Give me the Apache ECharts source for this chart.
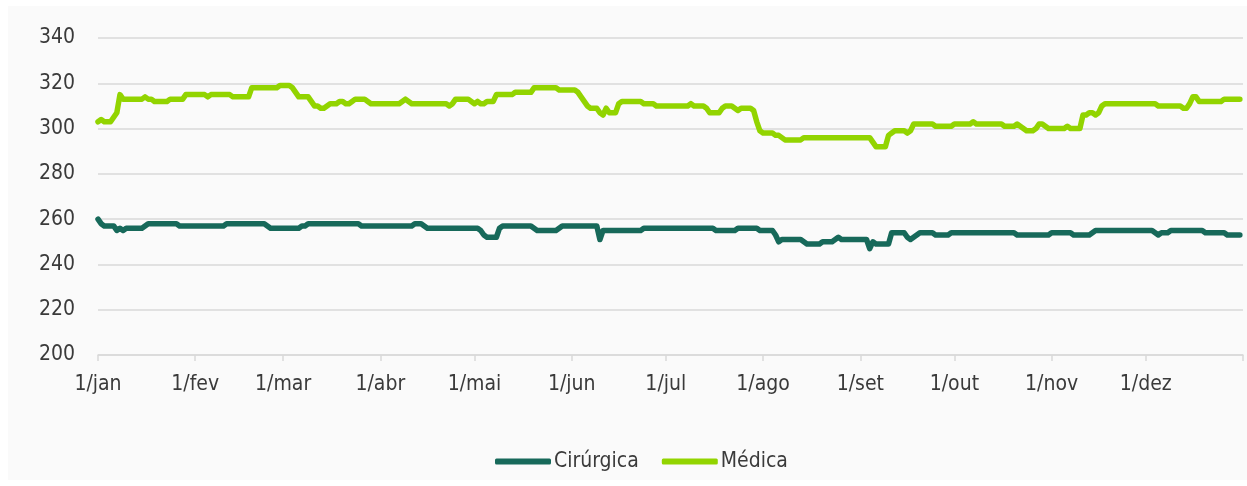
<!DOCTYPE html>
<html>
<head>
<meta charset="utf-8">
<script src="https://cdn.jsdelivr.net/npm/echarts@6/dist/echarts.min.js"></script>
<style>
html,body{margin:0;padding:0;background:#ffffff;}
#wrap{position:absolute;left:8px;top:6px;width:1239px;height:474px;background:#fafafa;}
#chart{position:absolute;left:0;top:0;width:1247px;height:486px;}
</style>
</head>
<body>
<div id="wrap"></div>
<div id="chart"></div>
<script>
// Month tick labels and their day offsets (day 0 = 1 January)
const monthLabels = ['1/jan','1/fev','1/mar','1/abr','1/mai','1/jun','1/jul','1/ago','1/set','1/out','1/nov','1/dez'];
const monthStarts = [0,31,59,90,120,151,181,212,243,273,304,334];
const yearEnd = 365;

// Daily occupied beds – Cirúrgica
const cirurgica = [
 260,258,257,257,257,257,255,256,255,256,256,256,256,256,256,257,258,258,258,258,258,258,258,258,258,258,257,257,257,257,257,
 257,257,257,257,257,257,257,257,257,257,258,258,258,258,258,258,258,258,258,258,258,258,258,257,256,256,256,256,
 256,256,256,256,256,256,257,257,258,258,258,258,258,258,258,258,258,258,258,258,258,258,258,258,258,257,257,257,257,257,257,
 257,257,257,257,257,257,257,257,257,257,257,258,258,258,257,256,256,256,256,256,256,256,256,256,256,256,256,256,256,256,
 256,256,255,253,252,252,252,252,256,257,257,257,257,257,257,257,257,257,257,256,255,255,255,255,255,255,255,256,257,257,257,
 257,257,257,257,257,257,257,257,257,251,255,255,255,255,255,255,255,255,255,255,255,255,255,256,256,256,256,256,256,256,
 256,256,256,256,256,256,256,256,256,256,256,256,256,256,256,256,255,255,255,255,255,255,255,256,256,256,256,256,256,256,255,
 255,255,255,255,253,250,251,251,251,251,251,251,251,250,249,249,249,249,249,250,250,250,250,251,252,251,251,251,251,251,251,
 251,251,251,247,250,249,249,249,249,249,254,254,254,254,254,252,251,252,253,254,254,254,254,254,253,253,253,253,253,254,
 254,254,254,254,254,254,254,254,254,254,254,254,254,254,254,254,254,254,254,254,253,253,253,253,253,253,253,253,253,253,253,
 254,254,254,254,254,254,254,253,253,253,253,253,253,254,255,255,255,255,255,255,255,255,255,255,255,255,255,255,255,255,
 255,255,255,254,253,254,254,254,255,255,255,255,255,255,255,255,255,255,255,254,254,254,254,254,254,254,253,253,253,253,253
];

// Daily occupied beds – Médica
const medica = [
 303,304,303,303,303,305,307,315,313,313,313,313,313,313,313,314,313,313,312,312,312,312,312,313,313,313,313,313,315,315,315,
 315,315,315,315,314,315,315,315,315,315,315,315,314,314,314,314,314,314,318,318,318,318,318,318,318,318,318,319,
 319,319,319,318,316,314,314,314,314,312,310,310,309,309,310,311,311,311,312,312,311,311,312,313,313,313,313,312,311,311,311,
 311,311,311,311,311,311,311,312,313,312,311,311,311,311,311,311,311,311,311,311,311,311,310,311,313,313,313,313,313,312,
 311,312,311,311,312,312,312,315,315,315,315,315,315,316,316,316,316,316,316,318,318,318,318,318,318,318,318,317,317,317,317,
 317,317,316,314,312,310,309,309,309,307,306,309,307,307,307,311,312,312,312,312,312,312,312,311,311,311,311,310,310,310,
 310,310,310,310,310,310,310,310,311,310,310,310,310,309,307,307,307,307,309,310,310,310,309,308,309,309,309,309,308,303,299,
 298,298,298,298,297,297,296,295,295,295,295,295,295,296,296,296,296,296,296,296,296,296,296,296,296,296,296,296,296,296,296,
 296,296,296,296,294,292,292,292,292,297,298,299,299,299,299,298,299,302,302,302,302,302,302,302,301,301,301,301,301,301,
 302,302,302,302,302,302,303,302,302,302,302,302,302,302,302,302,301,301,301,301,302,301,300,299,299,299,300,302,302,301,300,
 300,300,300,300,300,301,300,300,300,300,306,306,307,307,306,307,310,311,311,311,311,311,311,311,311,311,311,311,311,311,
 311,311,311,311,310,310,310,310,310,310,310,310,309,309,311,314,314,312,312,312,312,312,312,312,312,313,313,313,313,313,313
];

const FONT = "'Liberation Sans Narrow', 'DejaVu Sans Condensed', Roboto, sans-serif";
const TXT = '#3a3a3a';
const GRID = '#d9d9d9';

const chart = echarts.init(document.getElementById('chart'), null, {renderer: 'canvas'});
chart.setOption({
  backgroundColor: 'transparent',
  animation: false,
  textStyle: {fontFamily: FONT},
  grid: {left: 98, right: 4, top: 38, bottom: 131, containLabel: false},
  xAxis: {
    type: 'value',
    min: 0,
    max: yearEnd,
    splitLine: {show: false},
    axisLine: {show: true, lineStyle: {color: GRID, width: 1.5}},
    axisTick: {show: true, length: 6, lineStyle: {color: GRID, width: 1.5},
               customValues: monthStarts.concat([yearEnd])},
    axisLabel: {
      customValues: monthStarts,
      formatter: function (v) { return monthLabels[monthStarts.indexOf(v)]; },
      color: TXT, fontSize: 21, fontFamily: FONT, margin: 19
    }
  },
  yAxis: {
    type: 'value',
    min: 200, max: 340, interval: 20,
    axisLine: {show: false},
    axisTick: {show: false},
    splitLine: {lineStyle: {color: GRID, width: 1.5}},
    axisLabel: {color: TXT, fontSize: 21, fontFamily: FONT, margin: 23}
  },
  legend: {
    top: 446,
    left: 490,
    icon: 'roundRect',
    itemWidth: 56,
    itemHeight: 6,
    itemGap: 23,
    textStyle: {color: TXT, fontSize: 21, fontFamily: FONT, padding: [0, 0, 0, -2]},
    data: ['Cirúrgica', 'Médica']
  },
  series: [
    {
      name: 'Cirúrgica', type: 'line', showSymbol: false,
      data: cirurgica.map((v, i) => [i, v]),
      color: '#17695a',
      lineStyle: {width: 5.5, color: '#17695a', cap: 'round', join: 'round'}
    },
    {
      name: 'Médica', type: 'line', showSymbol: false,
      data: medica.map((v, i) => [i, v]),
      color: '#92d400',
      lineStyle: {width: 5.5, color: '#92d400', cap: 'round', join: 'round'}
    }
  ]
});
</script>
</body>
</html>
